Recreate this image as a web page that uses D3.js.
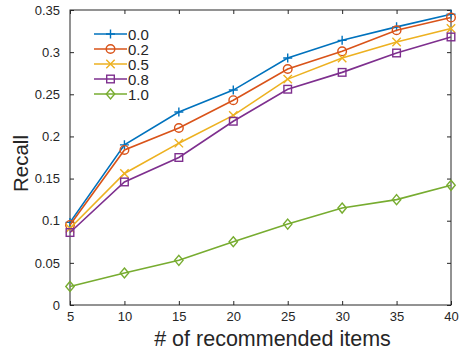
<!DOCTYPE html>
<html><head><meta charset="utf-8">
<script src="https://cdn.jsdelivr.net/npm/d3@7/dist/d3.min.js"></script>
<style>body{margin:0;background:#fff}svg{display:block}text{font-family:"Liberation Sans",Arial,sans-serif;fill:#262626}</style>
</head><body><svg id="c" width="467" height="354"></svg>
<script>
const xValues = [5, 10, 15, 20, 25, 30, 35, 40];
const seriesNames = ["0.0", "0.2", "0.5", "0.8", "1.0"];
const s00 = [0.098, 0.190, 0.229, 0.255, 0.293, 0.314, 0.330, 0.345];
const s02 = [0.095, 0.184, 0.210, 0.243, 0.280, 0.301, 0.326, 0.341];
const s05 = [0.091, 0.156, 0.192, 0.225, 0.268, 0.293, 0.312, 0.328];
const s08 = [0.086, 0.146, 0.175, 0.218, 0.256, 0.276, 0.299, 0.318];
const s10 = [0.022, 0.038, 0.053, 0.075, 0.096, 0.115, 0.125, 0.142];
const xTicks = [5, 10, 15, 20, 25, 30, 35, 40];
const yTicks = [0, 0.05, 0.1, 0.15, 0.2, 0.25, 0.3, 0.35];
const yTickLabels = ["0", "0.05", "0.1", "0.15", "0.2", "0.25", "0.3", "0.35"];

const colors = ["#0072BD", "#D95319", "#EDB120", "#7E2F8E", "#77AC30"];
const markers = ["plus", "circle", "cross", "square", "diamond"];
const allSeries = [s00, s02, s05, s08, s10];

const svg = d3.select("#c");
const L = 70, R = 451, T = 10, B = 305;
const x = d3.scaleLinear().domain([5, 40]).range([L, R]);
const y = d3.scaleLinear().domain([0, 0.35]).range([B, T]);
const axisColor = "#262626";

svg.append("rect").attr("x", L).attr("y", T).attr("width", R - L).attr("height", B - T)
  .attr("fill", "none").attr("stroke", axisColor).attr("stroke-width", 1);

const tl = 4;
const fmtY = (d, i) => yTickLabels[i];
const gx = svg.append("g").attr("transform", `translate(0,${B})`)
  .call(d3.axisBottom(x).tickValues(xTicks).tickSizeInner(-tl).tickSizeOuter(0).tickPadding(7));
const gxt = svg.append("g").attr("transform", `translate(0,${T})`)
  .call(d3.axisTop(x).tickValues(xTicks).tickSizeInner(-tl).tickSizeOuter(0).tickFormat(""));
const gy = svg.append("g").attr("transform", `translate(${L},0)`)
  .call(d3.axisLeft(y).tickValues(yTicks).tickSizeInner(-tl).tickSizeOuter(0).tickPadding(10).tickFormat(fmtY));
const gyr = svg.append("g").attr("transform", `translate(${R},0)`)
  .call(d3.axisRight(y).tickValues(yTicks).tickSizeInner(-tl).tickSizeOuter(0).tickFormat(""));
[gx, gxt, gy, gyr].forEach(g => {
  g.select(".domain").remove();
  g.selectAll("line").attr("stroke", axisColor);
  g.selectAll("text").style("font-size", "13px").attr("fill", axisColor);
});

svg.append("text").attr("x", (L + R) / 2 + 12).attr("y", 346).attr("text-anchor", "middle")
  .style("font-size", "21.5px").text("# of recommended items");
svg.append("text").attr("transform", `translate(28,${(T + B) / 2 + 6}) rotate(-90)`).attr("text-anchor", "middle")
  .style("font-size", "20.5px").text("Recall");

function drawMarker(g, type, cx, cy) {
  const s = 4.5;
  if (type === "plus") {
    g.append("path").attr("d", `M${cx - s},${cy}H${cx + s}M${cx},${cy - s}V${cy + s}`);
  } else if (type === "circle") {
    g.append("circle").attr("cx", cx).attr("cy", cy).attr("r", 4.3);
  } else if (type === "cross") {
    const k = 4.2;
    g.append("path").attr("d", `M${cx - k},${cy - k}L${cx + k},${cy + k}M${cx - k},${cy + k}L${cx + k},${cy - k}`);
  } else if (type === "square") {
    g.append("rect").attr("x", cx - 3.8).attr("y", cy - 3.8).attr("width", 7.6).attr("height", 7.6);
  } else if (type === "diamond") {
    const k = 5;
    g.append("path").attr("d", `M${cx},${cy - k}L${cx + 4.2},${cy}L${cx},${cy + k}L${cx - 4.2},${cy}Z`);
  }
}

const line = d3.line().x((d, i) => x(xValues[i])).y(d => y(d));
allSeries.forEach((vals, si) => {
  const g = svg.append("g").attr("stroke", colors[si]).attr("fill", "none").attr("stroke-width", 1.4);
  g.append("path").attr("d", line(vals)).attr("stroke-width", 1.6);
  vals.forEach((v, i) => drawMarker(g, markers[si], x(xValues[i]), y(v)));
});

const lgY = [34, 49, 64, 79, 94];
seriesNames.forEach((name, si) => {
  const g = svg.append("g").attr("stroke", colors[si]).attr("fill", "none").attr("stroke-width", 1.4);
  g.append("line").attr("x1", 94).attr("x2", 127).attr("y1", lgY[si]).attr("y2", lgY[si]).attr("stroke-width", 1.6);
  drawMarker(g, markers[si], 110.5, lgY[si]);
  svg.append("text").attr("x", 128).attr("y", lgY[si] + 5.5).style("font-size", "15px").text(name);
});
</script></body></html>
